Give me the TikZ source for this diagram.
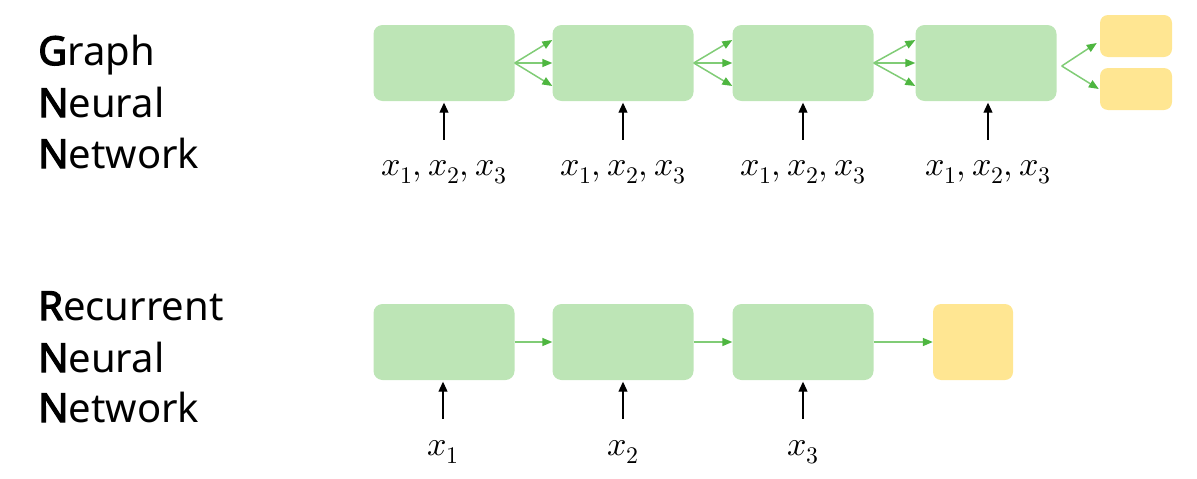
\documentclass[tikz,border=0pt]{standalone}
\usepackage{fontspec}
\usepackage{unicode-math}
\usetikzlibrary{arrows.meta}
\newfontfamily\netfont{Noto Sans}
\newfontfamily\netbold{Noto Sans}[FakeBold=3]
\newcommand{\hd}[1]{{\netbold #1}}
\definecolor{boxg}{RGB}{189,229,182}
\definecolor{boxy}{RGB}{255,230,146}
\definecolor{lineg}{RGB}{128,204,118}
\definecolor{tipg}{RGB}{78,182,64}
\tikzset{
  cell/.style={fill=boxg,rounded corners=9pt,minimum width=141pt,minimum height=76pt,inner sep=0pt},
  outp/.style={fill=boxy,rounded corners=8pt,inner sep=0pt},
  nname/.style={anchor=base west,inner sep=0pt,font=\netfont\fontsize{40}{48}\selectfont},
  xin/.style={anchor=base,inner sep=0pt,font=\fontsize{34}{40}\selectfont},
  fan/.style={draw=lineg,line width=1.5pt,-{Triangle[length=10pt,width=8pt,fill=tipg,color=tipg]}},
  inarr/.style={draw=black,line width=1.1pt,-{Triangle[length=10pt,width=9pt]},shorten >=1.5pt},
}
\begin{document}
\begin{tikzpicture}[x=1pt,y=-1pt]
\useasboundingbox (0,0) rectangle (1197,479);
% names on the left
\node[nname] (gt1) at (38,65) {\hd{G}raph};
\node[nname] (gt2) at (38,117) {\hd{N}eural};
\node[nname] (gt3) at (38,168) {\hd{N}etwork};
\node[nname] (rt1) at (38,320) {\hd{R}ecurrent};
\node[nname] (rt2) at (38,372) {\hd{N}eural};
\node[nname] (rt3) at (38,422) {\hd{N}etwork};
% graph neural network
\node[cell] (g1) at (444,63) {};
\node[cell] (g2) at (623,63) {};
\node[cell] (g3) at (803,63) {};
\node[cell] (g4) at (986,63) {};
\node[outp,minimum width=72pt,minimum height=42pt] (go1) at (1136,36) {};
\node[outp,minimum width=72pt,minimum height=42pt] (go2) at (1136,89) {};
\node[xin] (gx1) at (444,175) {$x_1, x_2, x_3$};
\node[xin] (gx2) at (623,175) {$x_1, x_2, x_3$};
\node[xin] (gx3) at (803,175) {$x_1, x_2, x_3$};
\node[xin] (gx4) at (988,175) {$x_1, x_2, x_3$};
\draw[fan] (g1.east) -- ([yshift=23pt]g2.west);
\draw[fan] (g1.east) -- (g2.west);
\draw[fan] (g1.east) -- ([yshift=-23pt]g2.west);
\draw[fan] (g2.east) -- ([yshift=23pt]g3.west);
\draw[fan] (g2.east) -- (g3.west);
\draw[fan] (g2.east) -- ([yshift=-23pt]g3.west);
\draw[fan] (g3.east) -- ([yshift=23pt]g4.west);
\draw[fan] (g3.east) -- (g4.west);
\draw[fan] (g3.east) -- ([yshift=-23pt]g4.west);
\draw[fan] ([xshift=5pt,yshift=-3pt]g4.east) -- ([xshift=-3pt,yshift=-7pt]go1.west);
\draw[fan] ([xshift=5pt,yshift=-3pt]g4.east) -- ([xshift=-1pt]go2.west);
\draw[inarr] ([yshift=20pt]gx1.north) -- (gx1.north |- g1.south);
\draw[inarr] ([yshift=20pt]gx2.north) -- (gx2.north |- g2.south);
\draw[inarr] ([yshift=20pt]gx3.north) -- (gx3.north |- g3.south);
\draw[inarr] ([yshift=20pt]gx4.north) -- (gx4.north |- g4.south);
% recurrent neural network
\node[cell] (r1) at (444,342) {};
\node[cell] (r2) at (623,342) {};
\node[cell] (r3) at (803,342) {};
\node[outp,minimum width=80pt,minimum height=76pt] (ro) at (973,342) {};
\node[xin] (rx1) at (443,455) {$x_1$};
\node[xin] (rx2) at (623,455) {$x_2$};
\node[xin] (rx3) at (803,455) {$x_3$};
\draw[fan] (r1) -- (r2);
\draw[fan] (r2) -- (r3);
\draw[fan] (r3) -- (ro);
\draw[inarr] ([yshift=21pt]rx1.north) -- (rx1.north |- r1.south);
\draw[inarr] ([yshift=21pt]rx2.north) -- (rx2.north |- r2.south);
\draw[inarr] ([yshift=21pt]rx3.north) -- (rx3.north |- r3.south);
\end{tikzpicture}
\end{document}
